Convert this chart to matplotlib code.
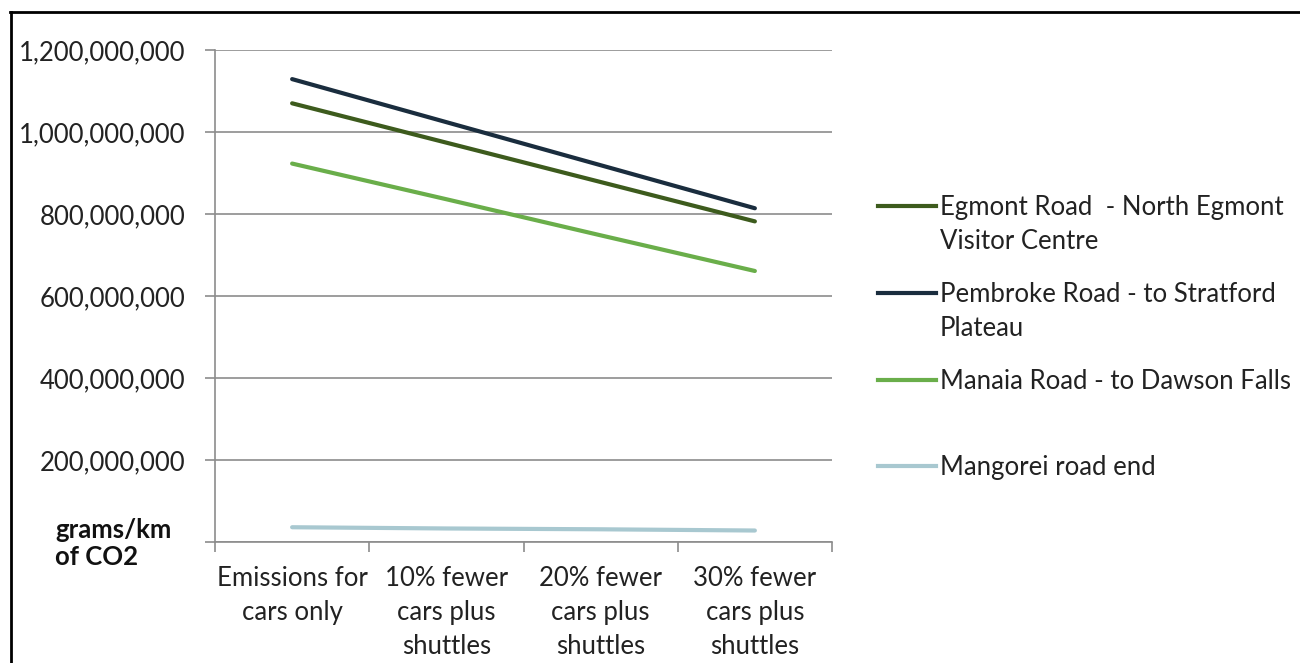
import matplotlib.pyplot as plt
from matplotlib.lines import Line2D
from matplotlib.ticker import FuncFormatter

plt.rcParams['font.family'] = ['Lato', 'DejaVu Sans']

# scenarios along the x axis
scenarios = ["Emissions for\ncars only", "10% fewer\ncars plus\nshuttles",
             "20% fewer\ncars plus\nshuttles", "30% fewer\ncars plus\nshuttles"]

# grams/km of CO2 per road
egmont = [1070e6, 974e6, 878e6, 782e6]
pembroke = [1129e6, 1024e6, 919e6, 814e6]
manaia = [923e6, 836e6, 748e6, 661e6]
mangorei = [36e6, 33e6, 31e6, 28e6]

names = ["Egmont Road  - North Egmont\nVisitor Centre",
         "Pembroke Road - to Stratford\nPlateau",
         "Manaia Road - to Dawson Falls",
         "Mangorei road end"]
colors = ['#3d5b1d', '#1a2d3e', '#6aae4a', '#a8c8d0']
series = [egmont, pembroke, manaia, mangorei]

FS = 18.5
LS = 1.45

fig = plt.figure(figsize=(13, 6.63), dpi=100)
ax = fig.add_axes([215 / 1300, 1 - 542 / 663, 617 / 1300, 492 / 663])

x = range(len(scenarios))
for vals, c in zip(series, colors):
    ax.plot(x, vals, color=c, linewidth=3, solid_capstyle='round')

ax.set_xlim(-0.5, 3.5)
ax.set_ylim(0, 1.2e9)
ax.set_yticks([i * 2e8 for i in range(7)])
ax.yaxis.set_major_formatter(FuncFormatter(lambda v, p: f"{int(v):,}" if v > 0 else ""))
ax.set_xticks([-0.5, 0.5, 1.5, 2.5, 3.5], minor=False)
ax.set_xticklabels([])
ax.set_xticks(list(x), minor=True)
ax.set_xticklabels(scenarios, minor=True, fontsize=FS, color='#222222',
                   linespacing=LS)
ax.tick_params(axis='x', which='minor', length=0, pad=17)
ax.tick_params(axis='x', which='major', length=7, width=1.2, color='#8c8c8c')
ax.tick_params(axis='y', length=7, width=1.2, color='#8c8c8c', labelsize=FS,
               labelcolor='#222222', pad=14)

ax.grid(axis='y', color='#8c8c8c', linewidth=1.2)
ax.set_axisbelow(True)
for s in ['top', 'right']:
    ax.spines[s].set_visible(False)
for s in ['left', 'bottom']:
    ax.spines[s].set_color('#8c8c8c')
    ax.spines[s].set_linewidth(1.2)

# axis caption
fig.text(55 / 1300, 1 - 530 / 663, "grams/km", fontsize=FS, fontweight='bold',
         va='center', ha='left', color='#111111')
fig.text(55 / 1300, 1 - 557 / 663, "of CO2", fontsize=FS, fontweight='bold',
         va='center', ha='left', color='#111111')

# legend entries
legend_y = [206, 293, 380, 466]
for name, c, yy in zip(names, colors, legend_y):
    yf = 1 - yy / 663
    fig.add_artist(Line2D([878 / 1300, 936 / 1300], [yf, yf], color=c,
                          linewidth=3, transform=fig.transFigure))
    fig.text(940 / 1300, 1 - (yy - 11) / 663, name, fontsize=FS, va='top',
             ha='left', color='#222222', linespacing=LS)

# outer frame (top and left edges)
fig.add_artist(Line2D([10 / 1300, 1], [1 - 12 / 663, 1 - 12 / 663], color='black',
                      linewidth=2, transform=fig.transFigure))
fig.add_artist(Line2D([11 / 1300, 11 / 1300], [0, 1 - 12 / 663], color='black',
                      linewidth=2, transform=fig.transFigure))

fig.savefig('out.png', dpi=100)
